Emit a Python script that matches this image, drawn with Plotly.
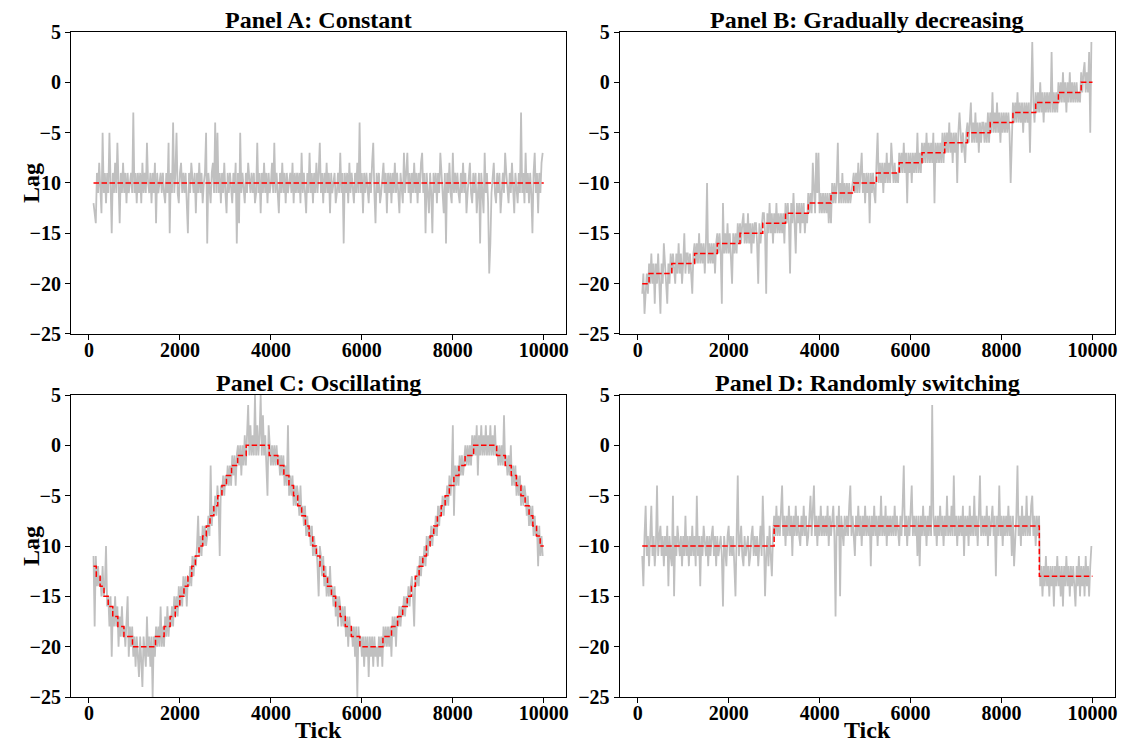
import plotly.graph_objects as go
from plotly.subplots import make_subplots

# sampled tick positions for the grey (observed) lag series
TICKS = list(range(100, 10000, 25))

# Panel A: constant
A_LAG = [
    -12, -13, -14, -9, -11, -8, -11, -13, -5, -11, -9, -12, -9, -11, -5, -10, -15, -9, -11, -8,
    -11, -6, -11, -14, -9, -11, -8, -11, -9, -12, -9, -11, -10, -9, -11, -3, -11, -9, -12, -9,
    -11, -9, -12, -8, -11, -9, -11, -6, -10, -11, -9, -12, -9, -11, -8, -14, -9, -11, -10, -9,
    -11, -9, -11, -12, -9, -11, -6, -15, -9, -11, -4, -11, -9, -5, -11, -12, -9, -8, -11, -9,
    -11, -9, -12, -15, -9, -11, -8, -10, -11, -9, -13, -9, -11, -8, -11, -9, -12, -10, -9, -5,
    -16, -9, -11, -12, -9, -8, -11, -4, -11, -5, -11, -9, -12, -9, -11, -8, -11, -13, -9, -11,
    -9, -11, -12, -9, -11, -8, -16, -9, -14, -5, -11, -9, -11, -12, -9, -11, -8, -10, -11, -9,
    -11, -9, -12, -11, -6, -11, -9, -13, -9, -11, -8, -11, -9, -12, -9, -11, -10, -8, -11, -6,
    -11, -9, -11, -13, -9, -11, -8, -11, -9, -12, -9, -11, -10, -9, -11, -8, -12, -9, -11, -9,
    -11, -9, -12, -7, -11, -9, -11, -13, -9, -11, -7, -11, -9, -12, -9, -11, -8, -11, -9, -6,
    -11, -9, -12, -9, -11, -8, -11, -9, -13, -9, -11, -10, -9, -12, -11, -9, -11, -7, -11, -9,
    -16, -9, -11, -9, -12, -8, -11, -9, -11, -12, -9, -11, -8, -11, -4, -11, -9, -13, -9, -11,
    -9, -11, -12, -9, -11, -8, -6, -11, -14, -9, -11, -9, -12, -11, -9, -8, -11, -9, -13, -9,
    -11, -9, -12, -9, -11, -8, -11, -9, -11, -13, -9, -11, -12, -7, -11, -9, -7, -11, -9, -12,
    -9, -11, -8, -11, -9, -12, -9, -11, -8, -7, -11, -9, -15, -9, -11, -13, -9, -11, -15, -9,
    -11, -9, -12, -9, -11, -7, -9, -11, -13, -9, -16, -9, -11, -8, -11, -12, -7, -11, -9, -11,
    -9, -11, -12, -9, -11, -8, -11, -9, -13, -11, -9, -8, -11, -12, -9, -11, -9, -13, -11, -9,
    -16, -9, -11, -13, -7, -11, -9, -12, -19, -16, -11, -9, -8, -11, -12, -9, -11, -9, -13, -11,
    -9, -11, -7, -9, -11, -12, -9, -11, -8, -11, -13, -9, -11, -12, -9, -11, -3, -11, -9, -12,
    -7, -11, -9, -12, -9, -11, -15, -9, -7, -11, -9, -13, -9, -11, -8, -7,
]
A_RED_TICKS = [100, 9999]
A_RED_LAG = [-10, -10]

# Panel B: gradually decreasing
B_LAG = [
    -21, -19, -23, -21, -19, -21, -18, -20, -17, -20, -18, -22, -18, -20, -17, -20, -23, -18, -20, -16,
    -18, -20, -22, -18, -20, -17, -19, -17, -19, -20, -17, -19, -16, -19, -17, -20, -18, -15, -19, -17,
    -17, -19, -17, -19, -21, -17, -16, -18, -16, -18, -15, -18, -16, -18, -16, -19, -16, -10, -18, -16,
    -18, -16, -18, -16, -19, -16, -15, -17, -15, -17, -22, -12, -17, -15, -17, -14, -17, -15, -17, -20,
    -15, -17, -15, -17, -14, -16, -14, -16, -14, -13, -16, -14, -16, -13, -16, -14, -17, -14, -16, -14,
    -14, -16, -20, -14, -16, -14, -13, -13, -15, -21, -13, -15, -12, -15, -13, -16, -13, -15, -12, -15,
    -13, -15, -13, -15, -13, -16, -12, -14, -12, -14, -19, -12, -14, -11, -14, -17, -12, -14, -12, -15,
    -12, -14, -12, -15, -13, -14, -11, -13, -11, -13, -8, -11, -13, -7, -11, -7, -13, -11, -13, -11,
    -13, -11, -13, -11, -14, -11, -14, -10, -12, -10, -12, -10, -6, -12, -10, -12, -9, -12, -10, -12,
    -10, -12, -10, -12, -11, -10, -9, -11, -9, -11, -8, -11, -9, -7, -11, -9, -12, -9, -11, -9,
    -14, -9, -11, -9, -11, -12, -8, -5, -10, -8, -10, -8, -11, -8, -10, -7, -10, -8, -10, -6,
    -8, -10, -8, -10, -9, -10, -7, -9, -7, -9, -6, -9, -7, -12, -7, -9, -7, -10, -7, -9,
    -7, -9, -5, -9, -7, -9, -6, -8, -6, -8, -5, -8, -6, -8, -6, -8, -5, -12, -6, -8,
    -6, -8, -6, -8, -5, -8, -5, -7, -5, -7, -4, -7, -5, -8, -5, -7, -5, -10, -5, -3,
    -5, -7, -5, -7, -8, -5, -4, -6, -4, -2, -6, -4, -6, -3, -6, -4, -7, -4, -6, -4,
    -4, -6, -4, -6, -3, -6, -3, -5, -1, -5, -3, -5, -2, -5, -3, -6, -3, -5, -3, -5,
    -3, -5, -3, -5, -10, -5, -2, -4, -2, -4, -1, -4, -2, -4, -2, -5, -2, -4, -2, -4,
    -2, -7, -2, 4, -2, -4, -1, -3, -1, -3, 0, -3, -1, -4, -1, -3, -1, -3, -1, -3,
    3, -3, -1, -3, -1, -3, 0, -2, 0, -2, 1, -2, 0, -3, 0, -2, 1, -2, 0, -2,
    0, -2, 0, -2, -1, -2, 1, -1, 1, 2, -1, 1, -1, 3, -5, 4,
]
B_RED_TICKS = [100, 250, 750, 1250, 1750, 2250, 2750, 3250, 3750, 4250, 4750,
               5250, 5750, 6250, 6750, 7250, 7750, 8250, 8750, 9250, 9750, 9999]
B_RED_LAG = [-20, -19, -18, -17, -16, -15, -14, -13, -12, -11, -10,
             -9, -8, -7, -6, -5, -4, -3, -2, -1, 0, 0]

# Panel C: oscillating
C_LAG = [
    -11, -18, -11, -14, -12, -14, -13, -15, -12, -15, -14, -10, -16, -15, -18, -15, -21, -16, -18, -15,
    -18, -16, -20, -17, -19, -16, -19, -18, -20, -18, -15, -21, -18, -20, -18, -21, -19, -22, -19, -21,
    -23, -19, -21, -24, -19, -21, -22, -17, -21, -19, -22, -19, -25, -19, -21, -18, -20, -18, -20, -16,
    -20, -18, -20, -17, -19, -16, -19, -17, -18, -16, -18, -15, -17, -15, -17, -14, -16, -14, -16, -13,
    -15, -13, -16, -13, -14, -12, -14, -11, -13, -11, -12, -10, -7, -11, -9, -11, -8, -10, -8, -10,
    -9, -7, -9, -2, -8, -6, -7, -5, -7, -4, -6, -11, -4, -5, -3, -5, -3, -4, -2, -4,
    -2, -4, -1, -3, -1, -4, -1, 0, -2, 0, -3, 0, -2, 1, -2, 1, 4, -1, 2, -1,
    1, -1, 5, -1, 2, -1, 1, 5, -1, 3, -1, 1, -2, -5, 2, 0, -2, 0, -2, 0,
    -2, 0, -2, -1, -3, -1, -3, -1, -4, -2, -4, 2, -5, -3, -5, -3, -6, -4, -6, -4,
    -5, -7, -4, -7, -6, -8, -6, -9, -7, -9, -8, -10, -8, -11, -9, -11, -10, -12, -15, -10,
    -11, -13, -11, -14, -12, -15, -13, -15, -12, -15, -14, -16, -14, -17, -15, -18, -15, -16, -18, -16,
    -18, -16, -19, -17, -20, -17, -19, -18, -20, -18, -21, -18, -25, -18, -20, -19, -21, -19, -22, -19,
    -21, -19, -23, -19, -21, -19, -22, -19, -21, -20, -22, -19, -21, -19, -22, -18, -20, -18, -20, -18,
    -20, -18, -21, -17, -19, -17, -20, -17, -18, -16, -18, -16, -17, -15, -17, -15, -16, -14, -16, -14,
    -13, -15, -18, -13, -14, -12, -14, -11, -13, -11, -12, -10, -12, -9, -11, -9, -10, -8, -10, -8,
    -9, -7, -9, -6, -8, -6, -7, -5, -7, -5, -6, -4, -6, -3, -5, -3, 2, -7, -2, -4,
    -2, -4, -1, -3, -1, -3, -1, 0, -2, 0, -2, 0, -2, 1, -1, 1, -1, 2, -3, 1,
    -1, 2, -1, 1, -1, 2, -1, 1, -1, 2, -1, 1, -1, 2, -1, 0, -2, 0, -2, 0,
    -2, 3, -2, -1, -3, -1, -3, 0, -4, -2, -4, -2, -5, -3, -5, -3, -6, -4, -6, -4,
    -5, -7, -5, -8, -6, -8, -6, -9, -7, -9, -8, -12, -8, -11, -9, -11,
]
C_RED_TICKS = [100, 161, 245, 331, 423, 523, 635, 769, 957,
               1463, 1652, 1785, 1897, 1997, 2089, 2176, 2259, 2340, 2420,
               2500, 2580, 2661, 2745, 2831, 2923, 3023, 3135, 3269, 3457,
               3963, 4152, 4285, 4397, 4497, 4589, 4676, 4759, 4840, 4920,
               5000, 5080, 5161, 5245, 5331, 5423, 5523, 5635, 5769, 5957,
               6463, 6652, 6785, 6897, 6997, 7089, 7176, 7259, 7340, 7420,
               7500, 7580, 7661, 7745, 7831, 7923, 8023, 8135, 8269, 8457,
               8963, 9152, 9285, 9397, 9497, 9589, 9676, 9759, 9840, 9920, 9999]
C_RED_LAG = [-12, -13, -14, -15, -16, -17, -18, -19, -20,
             -19, -18, -17, -16, -15, -14, -13, -12, -11, -10,
             -9, -8, -7, -6, -5, -4, -3, -2, -1, 0,
             -1, -2, -3, -4, -5, -6, -7, -8, -9, -10,
             -11, -12, -13, -14, -15, -16, -17, -18, -19, -20,
             -19, -18, -17, -16, -15, -14, -13, -12, -11, -10,
             -9, -8, -7, -6, -5, -4, -3, -2, -1, 0,
             -1, -2, -3, -4, -5, -6, -7, -8, -9, -10, -10]

# Panel D: randomly switching
D_LAG = [
    -11, -14, -9, -6, -11, -9, -12, -9, -6, -11, -9, -12, -10, -4, -11, -9, -8, -11, -9, -12,
    -9, -11, -8, -14, -9, -11, -12, -5, -15, -9, -11, -8, -10, -11, -9, -12, -9, -11, -7, -11,
    -9, -12, -9, -11, -8, -11, -9, -12, -5, -11, -9, -14, -9, -11, -8, -10, -11, -9, -12, -9,
    -11, -9, -8, -11, -9, -12, -9, -11, -10, -9, -11, -16, -9, -11, -12, -9, -8, -11, -9, -11,
    -9, -12, -15, -9, -3, -11, -9, -8, -11, -12, -9, -11, -10, -9, -12, -11, -9, -8, -11, -9,
    -11, -9, -12, -9, -8, -11, -5, -9, -15, -11, -9, -12, -8, -11, -13, -9, -7, -9, -6, -9,
    -7, -9, -6, -4, -9, -7, -10, -7, -9, -6, -9, -7, -11, -7, -9, -6, -9, -7, -9, -10,
    -7, -9, -6, -9, -7, -10, -9, -7, -5, -9, -7, -4, -9, -7, -10, -7, -9, -6, -9, -7,
    -9, -7, -9, -6, -10, -7, -9, -7, -6, -9, -17, -7, -9, -6, -15, -7, -9, -10, -7, -9,
    -7, -9, -6, -4, -9, -7, -9, -11, -7, -9, -6, -9, -7, -10, -7, -9, -6, -9, -7, -9,
    -7, -12, -7, -9, -6, -9, -7, -10, -7, -9, -5, -9, -7, -9, -6, -10, -7, -9, -7, -9,
    -7, -9, -6, -9, -7, -9, -10, -7, -9, -6, -2, -9, -7, -10, -7, -9, -6, -4, -9, -7,
    -9, -7, -11, -7, -12, -7, -9, -6, -9, -7, -10, -7, -9, -6, -9, 4, -7, -9, -7, -10,
    -7, -9, -6, -9, -7, -10, -7, -9, -5, -9, -7, -9, -6, -9, -3, -9, -7, -10, -7, -9,
    -7, -9, -6, -11, -7, -9, -7, -10, -6, -9, -7, -9, -5, -9, -7, -10, -7, -3, -9, -7,
    -9, -7, -9, -6, -10, -7, -9, -7, -6, -9, -7, -13, -7, -9, -4, -9, -7, -10, -7, -9,
    -7, -9, -6, -9, -7, -11, -7, -12, -9, -7, -2, -9, -7, -10, -6, -9, -7, -9, -5, -9,
    -7, -9, -6, -5, -9, -7, -10, -7, -9, -7, -14, -12, -15, -12, -14, -11, -14, -12, -15, -12,
    -14, -12, -16, -12, -14, -11, -14, -12, -15, -12, -16, -12, -14, -11, -14, -12, -15, -12, -14, -12,
    -14, -16, -12, -14, -11, -15, -12, -14, -12, -15, -11, -14, -12, -15, -12, -10,
]
D_RED_TICKS = [100, 3000, 8830, 9999]
D_RED_LAG = [-10, -8, -13, -13]

TITLES = ["Panel A: Constant", "Panel B: Gradually decreasing",
          "Panel C: Oscillating", "Panel D: Randomly switching"]

FONT = "Liberation Serif, Times New Roman, serif"

panels = [
    (A_LAG, A_RED_TICKS, A_RED_LAG, 1, 1),
    (B_LAG, B_RED_TICKS, B_RED_LAG, 1, 2),
    (C_LAG, C_RED_TICKS, C_RED_LAG, 2, 1),
    (D_LAG, D_RED_TICKS, D_RED_LAG, 2, 2),
]
for lag, _, _, _, _ in panels:
    assert len(lag) == len(TICKS), len(lag)

fig = make_subplots(rows=2, cols=2)

for lag, rt, rl, r, c in panels:
    fig.add_trace(go.Scatter(x=TICKS, y=lag, mode="lines",
                             line=dict(color="#c0c0c0", width=1.8),
                             hoverinfo="skip"), row=r, col=c)
    fig.add_trace(go.Scatter(x=rt, y=rl, mode="lines",
                             line=dict(color="#ff0000", width=1.5,
                                       dash="5.5px,2.5px", shape="hv")),
                  row=r, col=c)

# the page body adds an 8px offset, so the plot area is placed at 63..1107.5 x 24..689
xdom = {1: [0.0, 0.4744], 2: [0.5256, 1.0]}
ydom = {1: [0.5459, 1.0], 2: [0.0, 0.4541]}

axis_style = dict(showline=True, linecolor="black", linewidth=1.2, mirror=True,
                  ticks="outside", ticklen=5, tickwidth=1.2, tickcolor="black",
                  showgrid=False, zeroline=False, automargin=False,
                  tickfont=dict(family=FONT, size=20, color="black", weight="bold"))

k = 0
annotations = []
for _, _, _, r, c in panels:
    k += 1
    sfx = "" if k == 1 else str(k)
    fig.layout["xaxis" + sfx].update(domain=xdom[c], range=[-395, 10494],
                                     tickvals=[0, 2000, 4000, 6000, 8000, 10000],
                                     tickformat="d", ticklabelstandoff=-7, **axis_style)
    fig.layout["yaxis" + sfx].update(domain=ydom[r], range=[-25, 5],
                                     tickvals=[-25, -20, -15, -10, -5, 0, 5],
                                     **axis_style)
    annotations.append(dict(text=TITLES[k - 1], xref="paper", yref="paper",
                            x=sum(xdom[c]) / 2, y=ydom[r][1], xanchor="center",
                            yanchor="bottom", yshift=-3, showarrow=False,
                            font=dict(family=FONT, size=24, color="black", weight="bold")))

for r in (1, 2):
    annotations.append(dict(text="Lag", xref="paper", yref="paper", x=-0.0383,
                            y=sum(ydom[r]) / 2, xanchor="center", yanchor="middle",
                            textangle=-90, showarrow=False,
                            font=dict(family=FONT, size=24, color="black", weight="bold")))
for c in (1, 2):
    annotations.append(dict(text="Tick", xref="paper", yref="paper",
                            x=sum(xdom[c]) / 2, y=-0.0496, xanchor="center",
                            yanchor="middle", showarrow=False,
                            font=dict(family=FONT, size=24, color="black", weight="bold")))

fig.update_layout(width=1128, height=742,
                  margin=dict(l=63, r=20.5, t=24, b=53, autoexpand=False),
                  plot_bgcolor="white", paper_bgcolor="white",
                  showlegend=False, annotations=annotations)

fig.write_html("out.html")
